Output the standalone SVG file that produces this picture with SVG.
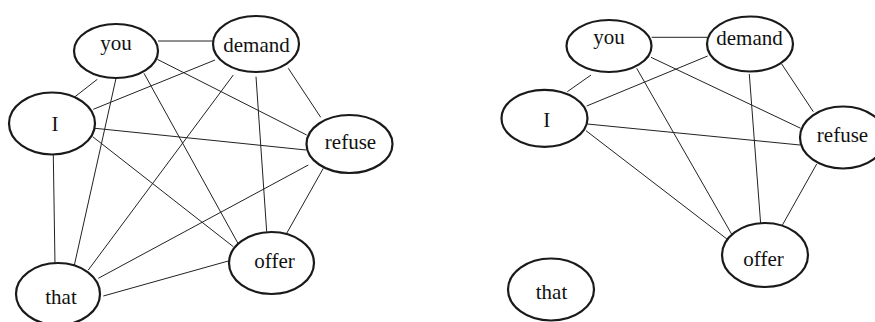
<svg xmlns="http://www.w3.org/2000/svg" width="875" height="322" viewBox="0 0 875 322">
<style>
.n ellipse{fill:#fff;stroke:#1a1a1a;stroke-width:2.2}
.n text{font-family:'Liberation Serif','Times New Roman','DejaVu Serif',serif;font-size:21px;fill:#111;text-anchor:middle}
.e line{stroke:#222;stroke-width:1}
</style>
<rect width="875" height="322" fill="#fff"/>
<g id="edges-left" class="e">
<line x1="158" y1="41" x2="213" y2="41"/>
<line x1="97.3" y1="79.3" x2="75" y2="96.7"/>
<line x1="116" y1="78.3" x2="74" y2="266.7"/>
<line x1="144" y1="73.3" x2="240.7" y2="248.3"/>
<line x1="157.3" y1="59.3" x2="306.7" y2="135"/>
<line x1="215" y1="60" x2="93.3" y2="109.3"/>
<line x1="233.3" y1="75" x2="88.3" y2="270"/>
<line x1="256" y1="76.7" x2="266.7" y2="231.7"/>
<line x1="288.3" y1="68.3" x2="320.7" y2="117.3"/>
<line x1="95" y1="128.3" x2="306" y2="150"/>
<line x1="92.7" y1="136.7" x2="233.3" y2="246.7"/>
<line x1="53.3" y1="155" x2="55" y2="265"/>
<line x1="308.3" y1="165" x2="98.3" y2="278.3"/>
<line x1="323.3" y1="168.3" x2="286.7" y2="233.3"/>
<line x1="228.3" y1="261" x2="103.3" y2="296"/>
</g>
<g id="edges-right" class="e">
<line x1="651.7" y1="37.3" x2="707.3" y2="37.3"/>
<line x1="591" y1="75" x2="567.3" y2="91.7"/>
<line x1="636.7" y1="68.3" x2="735" y2="240"/>
<line x1="651" y1="57.3" x2="800.7" y2="128.3"/>
<line x1="707.7" y1="56" x2="586.7" y2="106"/>
<line x1="749.3" y1="74" x2="761" y2="228.3"/>
<line x1="781.7" y1="64" x2="813.3" y2="111.7"/>
<line x1="587.3" y1="124" x2="800" y2="145"/>
<line x1="586" y1="130.7" x2="727.3" y2="239.3"/>
<line x1="816.7" y1="164" x2="780" y2="229.3"/>
</g>
<g id="L-you" class="n"><ellipse cx="116" cy="51" rx="42" ry="27"/><text x="116" y="49.5">you</text></g>
<g id="L-demand" class="n"><ellipse cx="256" cy="44" rx="43" ry="28"/><text x="256.5" y="51.5">demand</text></g>
<g id="L-I" class="n"><ellipse cx="52" cy="123.5" rx="43" ry="31"/><text x="55" y="130.5">I</text></g>
<g id="L-refuse" class="n"><ellipse cx="349.5" cy="144" rx="43" ry="29"/><text x="350.5" y="149">refuse</text></g>
<g id="L-offer" class="n"><ellipse cx="271.5" cy="263" rx="42.5" ry="31"/><text x="274.5" y="267.5">offer</text></g>
<g id="L-that" class="n"><ellipse cx="58" cy="294" rx="42" ry="31"/><text x="61" y="304">that</text></g>
<g id="R-you" class="n"><ellipse cx="609" cy="46" rx="42.5" ry="26"/><text x="609" y="43.5">you</text></g>
<g id="R-demand" class="n"><ellipse cx="750" cy="44" rx="43" ry="27.5"/><text x="749.5" y="44.5">demand</text></g>
<g id="R-I" class="n"><ellipse cx="544.5" cy="118.3" rx="43" ry="28.5"/><text x="546.7" y="127.3">I</text></g>
<g id="R-refuse" class="n"><ellipse cx="843" cy="137.5" rx="43" ry="31"/><text x="842.5" y="141.7">refuse</text></g>
<g id="R-offer" class="n"><ellipse cx="765" cy="255" rx="43" ry="32"/><text x="763.5" y="265.7">offer</text></g>
<g id="R-that" class="n"><ellipse cx="551" cy="289.5" rx="43" ry="31"/><text x="551.5" y="299">that</text></g>
</svg>
